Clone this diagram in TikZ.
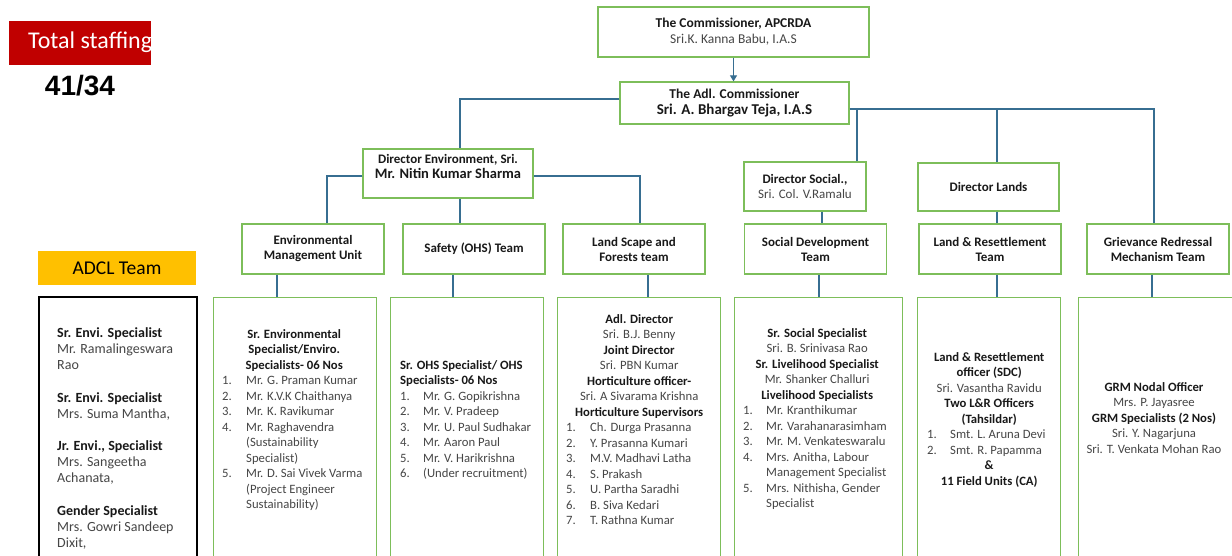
\documentclass[tikz,border=0pt]{standalone}
\usepackage{fontspec}
\setmainfont{Carlito}
\newfontfamily\numfont{Liberation Sans}
\usepackage{array}
\usetikzlibrary{positioning, arrows.meta}

\definecolor{boxgreen}{RGB}{125,190,90}
\definecolor{linkblue}{RGB}{55,110,145}
\definecolor{staffred}{RGB}{192,0,0}
\definecolor{adclyellow}{RGB}{255,192,0}
\definecolor{namegrey}{RGB}{70,70,70}
\definecolor{headblack}{RGB}{25,25,25}

\newcommand{\hd}[1]{\textbf{\color{headblack}#1}}
\newcommand{\rowc}[1]{\multicolumn{2}{@{}c@{}}{#1}}
\newcommand{\rowl}[1]{\multicolumn{2}{@{}l@{}}{#1}}
\newcommand{\lfont}{\fontsize{12.7}{15.5}\selectfont}

\tikzset{
  orgbox/.style={draw=boxgreen, line width=1.3pt, fill=white, align=center, inner sep=2pt, text=namegrey, font=\fontsize{13}{15}\selectfont},
  teambox/.style={orgbox, minimum width=142pt, minimum height=50pt},
  listbox/.style={draw=boxgreen, line width=1.3pt, anchor=north west, minimum height=280pt},
  listtxt/.style={anchor=north west, inner sep=0pt, text=namegrey, font=\lfont},
  link/.style={draw=linkblue, line width=1.1pt},
}

\begin{document}
\begin{tikzpicture}[x=1pt, y=-1pt]
\useasboundingbox (0,0) rectangle (1232,556);
\clip (0,0) rectangle (1232,556);
\fill[white] (0,0) rectangle (1232,556);

% total staffing
\node[fill=staffred, minimum width=142pt, minimum height=44pt, inner sep=0pt] (staff) at (80,43) {};
\begin{scope}
  \clip (staff.south west) rectangle (staff.north east);
  \node[anchor=west, text=white, inner sep=0pt, font=\fontsize{24}{24}\selectfont] (staffTxt) at (28,42) {Total staffing};
\end{scope}
\node[font=\numfont\bfseries\fontsize{28}{28}\selectfont] (staffNum) at (80,86) {41/34};

% commissioners
\node[orgbox, minimum width=271pt, minimum height=50pt, font=\fontsize{13.5}{16}\selectfont] (comm) at (733.5,32)
  {\hd{The Commissioner, APCRDA}\\ Sri.K. Kanna Babu, I.A.S};
\node[orgbox, minimum width=229pt, minimum height=42pt, font=\fontsize{13.5}{16}\selectfont] (adl) at (734.5,103)
  {\hd{The Adl. Commissioner}\\ {\fontsize{15}{17}\selectfont\hd{Sri. A. Bhargav Teja, I.A.S}}};
\draw[link, -{Triangle[width=7pt,length=6pt]}] (comm.south) -- (comm.south |- adl.north);

% directors
\node[orgbox, minimum width=170pt, minimum height=49pt] (dirEnv) at (448,173.5)
  {\hd{Director Environment, Sri.}\\ {\fontsize{14.5}{16}\selectfont\hd{Mr. Nitin Kumar Sharma}}\\ \mbox{}};
\node[orgbox, minimum width=122pt, minimum height=49pt] (dirSoc) at (805,186.5)
  {\hd{Director Social.,}\\ Sri. Col. V.Ramalu};
\node[orgbox, minimum width=141pt, minimum height=48pt] (dirLand) at (988.5,187) {\hd{Director Lands}};

% teams
\node[teambox] (emuTeam) at (313,249) {\hd{Environmental}\\ \hd{Management Unit}};
\node[teambox] (ohsTeam) at (474,249) {\hd{Safety (OHS) Team}};
\node[teambox] (lsTeam) at (634,249) {\hd{Land Scape and}\\ \hd{Forests team}};
\node[teambox] (sdTeam) at (815.5,249) {\hd{Social Development}\\ \hd{Team}};
\node[teambox] (lrTeam) at (990,249) {\hd{Land \& Resettlement}\\ \hd{Team}};
\node[teambox] (grmTeam) at (1158,249) {\hd{Grievance Redressal}\\ \hd{Mechanism Team}};

% connectors
\coordinate (busR) at ([yshift=-6pt]adl.east);
\draw[link] ([yshift=4pt]adl.west) -| ([xshift=12pt]dirEnv.north);
\draw[link] (busR) -| ([xshift=-4pt]grmTeam.north);
\draw[link] ([xshift=52pt]dirSoc.north) -- ([xshift=52pt]dirSoc.north |- busR);
\draw[link] ([xshift=8.5pt]dirLand.north) -- ([xshift=8.5pt]dirLand.north |- busR);
\draw[link] ([yshift=-2.5pt]dirEnv.west) -| ([xshift=14pt]emuTeam.north);
\draw[link] ([yshift=-2.5pt]dirEnv.east) -| ([xshift=6pt]lsTeam.north);
\draw[link] ([xshift=12pt]dirEnv.south) -- ([xshift=12pt]dirEnv.south |- ohsTeam.north);
\draw[link] ([xshift=6.5pt]sdTeam.north |- dirSoc.south) -- ([xshift=6.5pt]sdTeam.north);
\draw[link] ([xshift=7pt]lrTeam.north |- dirLand.south) -- ([xshift=7pt]lrTeam.north);

% member lists
\node[listbox, minimum width=163pt] (emuList) at (213,297) {};
\node[listbox, minimum width=153pt] (ohsList) at (390,297) {};
\node[listbox, minimum width=163pt] (lsList) at (557,297) {};
\node[listbox, minimum width=168pt] (sdList) at (734,297) {};
\node[listbox, minimum width=143pt] (lrList) at (917,297) {};
\node[listbox, minimum width=170pt] (grmList) at (1078,297) {};

\draw[link] ([xshift=-36pt]emuTeam.south) -- ([xshift=-36pt]emuTeam.south |- emuList.north);
\draw[link] ([xshift=-21pt]ohsTeam.south) -- ([xshift=-21pt]ohsTeam.south |- ohsList.north);
\draw[link] ([xshift=14pt]lsTeam.south) -- ([xshift=14pt]lsTeam.south |- lsList.north);
\draw[link] ([xshift=3.5pt]sdTeam.south) -- ([xshift=3.5pt]sdTeam.south |- sdList.north);
\draw[link] ([xshift=7pt]lrTeam.south) -- ([xshift=7pt]lrTeam.south |- lrList.north);
\draw[link] ([xshift=-6pt]grmTeam.south) -- ([xshift=-6pt]grmTeam.south |- grmList.north);

\node[listtxt] (emuTxt) at ([xshift=9pt, yshift=-30pt]emuList.north west) {%
  \begin{tabular}{@{}p{24pt}@{}p{120pt}@{}}
    \rowc{\hd{Sr. Environmental}}\\
    \rowc{\hd{Specialist/Enviro.}}\\
    \rowc{\hd{Specialists- 06 Nos}}\\
    1. & Mr. G. Praman Kumar\\
    2. & Mr. K.V.K Chaithanya\\
    3. & Mr. K. Ravikumar\\
    4. & Mr. Raghavendra\\
       & (Sustainability\\
       & Specialist)\\
    5. & Mr. D. Sai Vivek Varma\\
       & (Project Engineer\\
       & Sustainability)
  \end{tabular}};

\node[listtxt] (ohsTxt) at ([xshift=10pt, yshift=-61pt]ohsList.north west) {%
  \begin{tabular}{@{}p{23pt}@{}l@{}}
    \rowl{\hd{Sr. OHS Specialist/ OHS}}\\
    \rowl{\hd{Specialists- 06 Nos}}\\
    1. & Mr. G. Gopikrishna\\
    2. & Mr. V. Pradeep\\
    3. & Mr. U. Paul Sudhakar\\
    4. & Mr. Aaron Paul\\
    5. & Mr. V. Harikrishna\\
    6. & (Under recruitment)
  \end{tabular}};

\node[listtxt] (lsTxt) at ([xshift=9pt, yshift=-15pt]lsList.north west) {%
  \begin{tabular}{@{}p{24pt}@{}p{122pt}@{}}
    \rowc{\hd{Adl. Director}}\\
    \rowc{Sri. B.J. Benny}\\
    \rowc{\hd{Joint Director}}\\
    \rowc{Sri. PBN Kumar}\\
    \rowc{\hd{Horticulture officer-}}\\
    \rowc{Sri. A Sivarama Krishna}\\
    \rowc{\hd{Horticulture Supervisors}}\\
    1. & Ch. Durga Prasanna\\
    2. & Y. Prasanna Kumari\\
    3. & M.V. Madhavi Latha\\
    4. & S. Prakash\\
    5. & U. Partha Saradhi\\
    6. & B. Siva Kedari\\
    7. & T. Rathna Kumar
  \end{tabular}};

\node[listtxt] (sdTxt) at ([xshift=9pt, yshift=-29pt]sdList.north west) {%
  \begin{tabular}{@{}p{23pt}@{}p{125pt}@{}}
    \rowc{\hd{Sr. Social Specialist}}\\
    \rowc{Sri. B. Srinivasa Rao}\\
    \rowc{\hd{Sr. Livelihood Specialist}}\\
    \rowc{Mr. Shanker Challuri}\\
    \rowc{\hd{Livelihood Specialists}}\\
    1. & Mr. Kranthikumar\\
    2. & Mr. Varahanarasimham\\
    3. & Mr. M. Venkateswaralu\\
    4. & Mrs. Anitha, Labour\\
       & Management Specialist\\
    5. & Mrs. Nithisha, Gender\\
       & Specialist
  \end{tabular}};

\node[listtxt] (lrTxt) at ([xshift=10pt, yshift=-53pt]lrList.north west) {%
  \begin{tabular}{@{}p{23pt}@{}p{101pt}@{}}
    \rowc{\hd{Land \& Resettlement}}\\
    \rowc{\hd{officer (SDC)}}\\
    \rowc{Sri. Vasantha Ravidu}\\
    \rowc{\hd{Two L\&R Officers}}\\
    \rowc{\hd{(Tahsildar)}}\\
    1. & Smt. L. Aruna Devi\\
    2. & Smt. R. Papamma\\
    \rowc{\hd{\&}}\\
    \rowc{\hd{11 Field Units (CA)}}
  \end{tabular}};

\node[listtxt, anchor=north, align=center] (grmTxt) at (1154,382)
  {\hd{GRM Nodal Officer}\\ Mrs. P. Jayasree\\ \hd{GRM Specialists (2 Nos)}\\ Sri. Y. Nagarjuna\\ Sri. T. Venkata Mohan Rao};

% ADCL team
\node[fill=adclyellow, minimum width=158pt, minimum height=34pt, inner sep=0pt, font=\fontsize{19.5}{20}\selectfont] (adclHead) at (117,268) {ADCL Team};
\node[draw=black, line width=2pt, anchor=north west, minimum width=158pt, minimum height=280pt] (adclBox) at (38,296) {};
\node[listtxt, font=\fontsize{14}{16.2}\selectfont] (adclTxt) at ([xshift=19pt, yshift=-30pt]adclBox.north west) {%
  \begin{tabular}{@{}l@{}}
    \hd{Sr. Envi. Specialist}\\
    Mr. Ramalingeswara\\
    Rao\\[16pt]
    \hd{Sr. Envi. Specialist}\\
    Mrs. Suma Mantha,\\[16pt]
    \hd{Jr. Envi., Specialist}\\
    Mrs. Sangeetha\\
    Achanata,\\[16pt]
    \hd{Gender Specialist}\\
    Mrs. Gowri Sandeep\\
    Dixit,
  \end{tabular}};
\end{tikzpicture}
\end{document}
